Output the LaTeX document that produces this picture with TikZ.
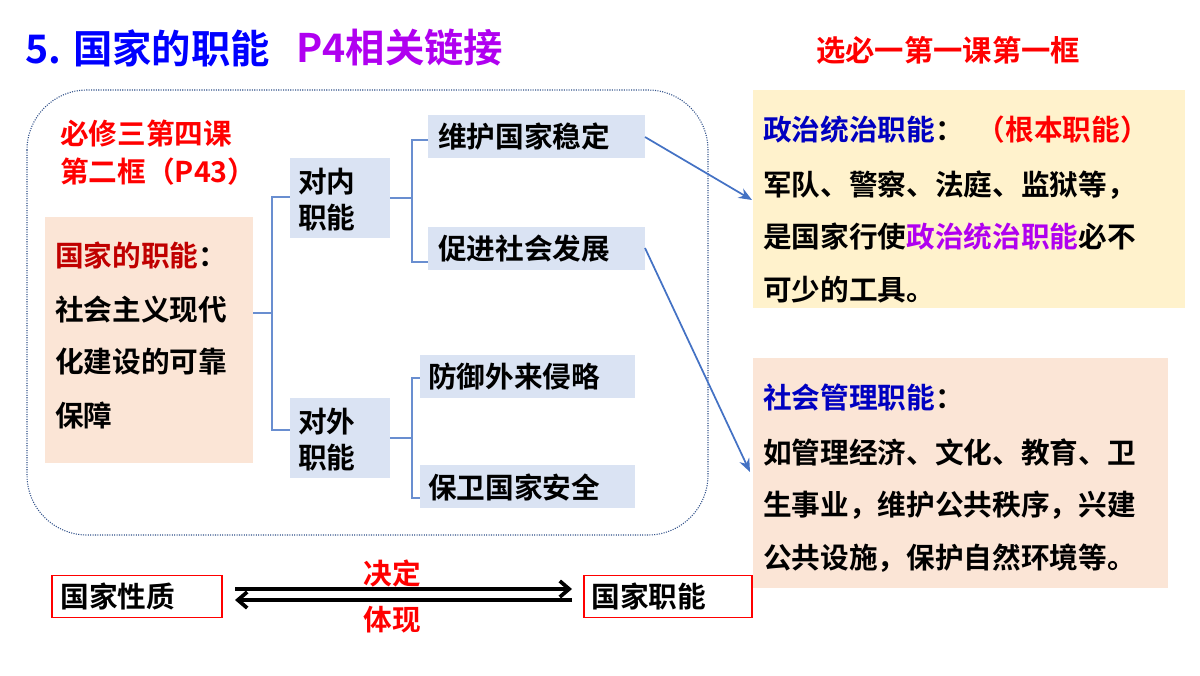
\documentclass[tikz,border=0pt]{standalone}
\usepackage{fontspec}
\setmainfont{Noto Sans CJK SC}[BoldFont={* Bold}]
\usetikzlibrary{arrows.meta}
\definecolor{peach}{HTML}{FBE5D6}
\definecolor{lblue}{HTML}{DAE3F3}
\definecolor{lyel}{HTML}{FFF2CC}
\definecolor{abl}{HTML}{4472C4}
\definecolor{dred}{HTML}{C00000}
\definecolor{purp}{HTML}{B000F0}
\definecolor{dblue}{HTML}{0000C0}
\tikzset{
 txt/.style={anchor=west,inner sep=0,font=\fontsize{21.5}{24}\selectfont\bfseries},
 bluebox/.style={fill=lblue,draw=none},
 brk/.style={draw=abl!80,line width=0.8pt},
 conn/.style={draw=abl,line width=1.3pt,-{Stealth[length=10pt,width=8pt]}},
 redbox/.style={draw=red,line width=0.8pt,fill=white},
 dbl/.style={line width=2.8pt,-{Straight Barb[length=7pt,width=12pt]}}
}
\begin{document}
\begin{tikzpicture}[x=0.75pt,y=-0.75pt]
\useasboundingbox (0,0) rectangle (1200,675);
% title
\node[anchor=west,inner sep=0,font=\fontsize{29.5}{32}\selectfont\bfseries,text=blue] (t1) at (25,48) {5. 国家的职能};
\node[anchor=west,inner sep=0,font=\fontsize{29.5}{32}\selectfont\bfseries,text=purp] (t2) at (296,48) {P4相关链接};
\node[inner sep=0,font=\fontsize{22}{24}\selectfont\bfseries,text=red] (t3) at (948,50) {选必一第一课第一框};
% frame
\draw[densely dotted,draw=abl!70!black,line width=0.8pt,rounded corners=45pt] (27,90) rectangle (708,535);
\node[txt,text=red] (r1) at (60,133) {必修三第四课};
\node[txt,text=red] (r2) at (60,172) {第二框（P43）};
% left box
\fill[peach] (45,217) rectangle (253,463);
\node[txt] (l1) at (55,255) {\textcolor{dred}{国家的职能}：};
\node[txt] (l2) at (55,310) {社会主义现代};
\node[txt] (l3) at (55,362) {化建设的可靠};
\node[txt] (l4) at (55,416) {保障};
% brackets
\coordinate (b0) at (253,313);
\draw[brk] (b0) -- (272,313) (290,197) -- (272,197) -- (272,430) -- (290,430);
\fill[bluebox] (290,158) rectangle (390,238);
\node[txt] (n1) at (298,182) {对内};
\node[txt] (n2) at (298,218) {职能};
\fill[bluebox] (290,398) rectangle (390,478);
\node[txt] (w1) at (298,422) {对外};
\node[txt] (w2) at (298,458) {职能};
\draw[brk] (390,198) -- (412,198) (428,140) -- (412,140) -- (412,262) -- (428,262);
\draw[brk] (390,438) -- (412,438) (420,378) -- (412,378) -- (412,498) -- (420,498);
\fill[bluebox] (428,115) rectangle (645,158);
\node[txt] (a1) at (438,137) {维护国家稳定};
\fill[bluebox] (428,227) rectangle (645,270);
\node[txt] (a2) at (438,249) {促进社会发展};
\fill[bluebox] (420,355) rectangle (635,398);
\node[txt] (a3) at (428,377) {防御外来侵略};
\fill[bluebox] (420,465) rectangle (635,508);
\node[txt] (a4) at (428,487) {保卫国家安全};
% right boxes
\fill[lyel] (753,90) rectangle (1185,308);
\node[txt] (p1) at (763,130) {\textcolor{dblue}{政治统治职能}：\ \ \textcolor{red}{（根本职能）}};
\node[txt] (p2) at (763,185) {军队、警察、法庭、监狱等，};
\node[txt] (p3) at (763,237) {是国家行使\textcolor{purp}{政治统治职能}必不};
\node[txt] (p4) at (763,290) {可少的工具。};
\fill[peach] (753,358) rectangle (1168,588);
\node[txt] (s1) at (763,398) {\textcolor{dblue}{社会管理职能}：};
\node[txt] (s2) at (763,452) {如管理经济、文化、教育、卫};
\node[txt] (s3) at (763,505) {生事业，维护公共秩序，兴建};
\node[txt] (s4) at (763,558) {公共设施，保护自然环境等。};
\coordinate (e1) at (752,200);
\coordinate (e2) at (750,472);
\draw[conn] (645,137) -- (e1);
\draw[conn] (645,248) -- (e2);
% bottom
\node[redbox,minimum width=127.5pt,minimum height=32pt,text width=115pt,align=left,font=\fontsize{21.5}{24}\selectfont\bfseries] (q1) at (137,596.5) {国家性质};
\node[redbox,minimum width=126pt,minimum height=32pt,text width=115pt,align=left,font=\fontsize{21.5}{24}\selectfont\bfseries] (q2) at (668,596.5) {国家职能};
\draw[dbl] (235,589) -- (572,589);
\draw[dbl] (572,600) -- (235,600);
\node[inner sep=0,font=\fontsize{21.5}{24}\selectfont\bfseries,text=red] (d1) at (392,573) {决定};
\node[inner sep=0,font=\fontsize{21.5}{24}\selectfont\bfseries,text=red] (d2) at (392,620) {体现};
\end{tikzpicture}
\end{document}
